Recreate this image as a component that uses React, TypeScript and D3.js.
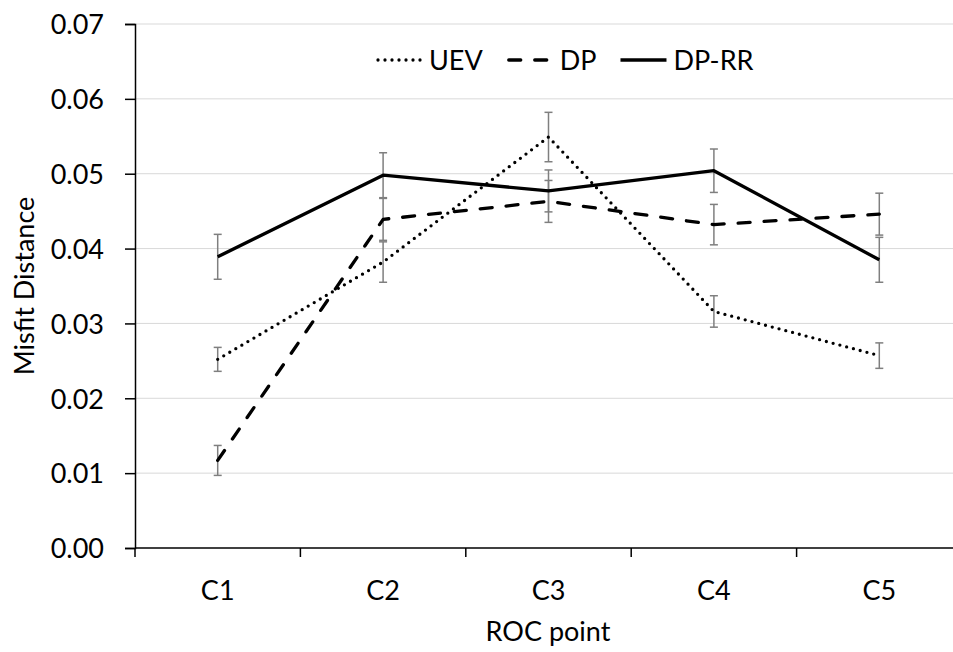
import React, { useEffect, useRef } from 'react';
import * as d3 from 'd3';

// ROC points on the x axis
const categories = ['C1', 'C2', 'C3', 'C4', 'C5'];

// series means
const uevValues = [0.0252, 0.0382, 0.0549, 0.0316, 0.0257];
const dpValues = [0.0117, 0.0439, 0.0463, 0.0432, 0.0446];
const dpRRValues = [0.0389, 0.0498, 0.0477, 0.0504, 0.0385];

// error bar half widths
const uevErrors = [0.0016, 0.0027, 0.0033, 0.0021, 0.0017];
const dpErrors = [0.002, 0.0028, 0.0028, 0.0027, 0.0028];
const dpRRErrors = [0.003, 0.003, 0.0028, 0.0029, 0.003];

const yTicks = [0, 0.01, 0.02, 0.03, 0.04, 0.05, 0.06, 0.07];

const FONT = 'Lato, "Open Sans", sans-serif';

const App = () => {
  const svgRef = useRef(null);

  useEffect(() => {
    const W = 953;
    const H = 652;
    const margin = { top: 24, right: -9, bottom: 104, left: 135 };
    const width = W - margin.left - margin.right;
    const height = H - margin.top - margin.bottom;

    const svg = d3.select(svgRef.current);
    svg.selectAll('*').remove();

    svg.append('rect').attr('width', W).attr('height', H).attr('fill', '#fff');

    const g = svg.append('g').attr('transform', `translate(${margin.left},${margin.top})`);

    const x = d3.scaleBand().domain(categories).range([0, width]);
    const y = d3.scaleLinear().domain([0, 0.07]).range([height, 0]);

    // gridlines
    g.append('g')
      .selectAll('line')
      .data(yTicks.slice(1))
      .enter()
      .append('line')
      .attr('x1', 0)
      .attr('x2', width)
      .attr('y1', d => y(d))
      .attr('y2', d => y(d))
      .attr('stroke', '#d9d9d9')
      .attr('stroke-width', 1);

    // y axis
    const yAxis = g.append('g')
      .call(d3.axisLeft(y).tickValues(yTicks).tickFormat(d3.format('.2f')).tickSize(10).tickPadding(21));
    yAxis.select('.domain').attr('stroke', '#000').attr('stroke-width', 1.5);
    yAxis.selectAll('.tick line').attr('stroke', '#000').attr('stroke-width', 1.5);
    yAxis.selectAll('.tick text')
      .attr('font-family', FONT)
      .attr('font-size', 27)
      .attr('fill', '#000')
      .attr('dy', '0.36em');

    // x axis with ticks on band boundaries
    const xAxis = g.append('g').attr('transform', `translate(0,${height})`);
    xAxis.append('line')
      .attr('x1', 0).attr('x2', width)
      .attr('stroke', '#000').attr('stroke-width', 1.5);
    xAxis.selectAll('.bt')
      .data(categories)
      .enter()
      .append('line')
      .attr('x1', d => x(d))
      .attr('x2', d => x(d))
      .attr('y1', 0)
      .attr('y2', 9)
      .attr('stroke', '#000')
      .attr('stroke-width', 1.5);
    xAxis.selectAll('text')
      .data(categories)
      .enter()
      .append('text')
      .attr('x', d => x(d) + x.bandwidth() / 2)
      .attr('y', 42)
      .attr('dy', '0.36em')
      .attr('text-anchor', 'middle')
      .attr('font-family', FONT)
      .attr('font-size', 27)
      .text(d => d);

    // axis titles
    svg.append('text')
      .attr('x', 548)
      .attr('y', 631)
      .attr('dy', '0.36em')
      .attr('text-anchor', 'middle')
      .attr('font-family', FONT)
      .attr('font-size', 27)
      .text('ROC point');

    svg.append('text')
      .attr('transform', `translate(24,${margin.top + height / 2}) rotate(-90)`)
      .attr('dy', '0.36em')
      .attr('text-anchor', 'middle')
      .attr('font-family', FONT)
      .attr('font-size', 27)
      .text('Misfit Distance');

    const series = [
      { name: 'UEV', values: uevValues, errors: uevErrors, dash: '0 7', cap: 'round' },
      { name: 'DP', values: dpValues, errors: dpErrors, dash: '12 14', cap: 'round' },
      { name: 'DP-RR', values: dpRRValues, errors: dpRRErrors, dash: null, cap: 'butt' },
    ];

    const cx = (i) => x(categories[i]) + x.bandwidth() / 2;

    // error bars
    series.forEach(s => {
      const eb = g.append('g').attr('stroke', '#7f7f7f').attr('stroke-width', 1.5);
      s.values.forEach((v, i) => {
        const top = y(v + s.errors[i]);
        const bot = y(v - s.errors[i]);
        eb.append('line').attr('x1', cx(i)).attr('x2', cx(i)).attr('y1', top).attr('y2', bot);
        eb.append('line').attr('x1', cx(i) - 4).attr('x2', cx(i) + 4).attr('y1', top).attr('y2', top);
        eb.append('line').attr('x1', cx(i) - 4).attr('x2', cx(i) + 4).attr('y1', bot).attr('y2', bot);
      });
    });

    // lines
    const line = d3.line().x((d, i) => cx(i)).y(d => y(d));
    series.forEach(s => {
      g.append('path')
        .attr('d', line(s.values))
        .attr('fill', 'none')
        .attr('stroke', '#000')
        .attr('stroke-width', 3.3)
        .attr('stroke-linecap', s.cap)
        .attr('stroke-linejoin', 'round')
        .attr('stroke-dasharray', s.dash);
    });

    // legend
    const legend = svg.append('g').attr('transform', 'translate(376,60)');
    let lx = 0;
    series.forEach(s => {
      legend.append('line')
        .attr('x1', lx + (s.cap === 'round' ? 2 : 0))
        .attr('x2', lx + 46)
        .attr('y1', 0)
        .attr('y2', 0)
        .attr('stroke', '#000')
        .attr('stroke-width', 3.3)
        .attr('stroke-linecap', s.cap)
        .attr('stroke-dasharray', s.dash);
      const t = legend.append('text')
        .attr('x', lx + 53)
        .attr('dy', '0.36em')
        .attr('font-family', FONT)
        .attr('font-size', 27)
        .text(s.name);
      lx += 53 + t.node().getComputedTextLength() + 24;
    });
  }, []);

  return (
    <svg
      ref={svgRef}
      width={953}
      height={652}
      style={{ position: 'absolute', left: 0, top: 0 }}
    />
  );
};

export default App;
